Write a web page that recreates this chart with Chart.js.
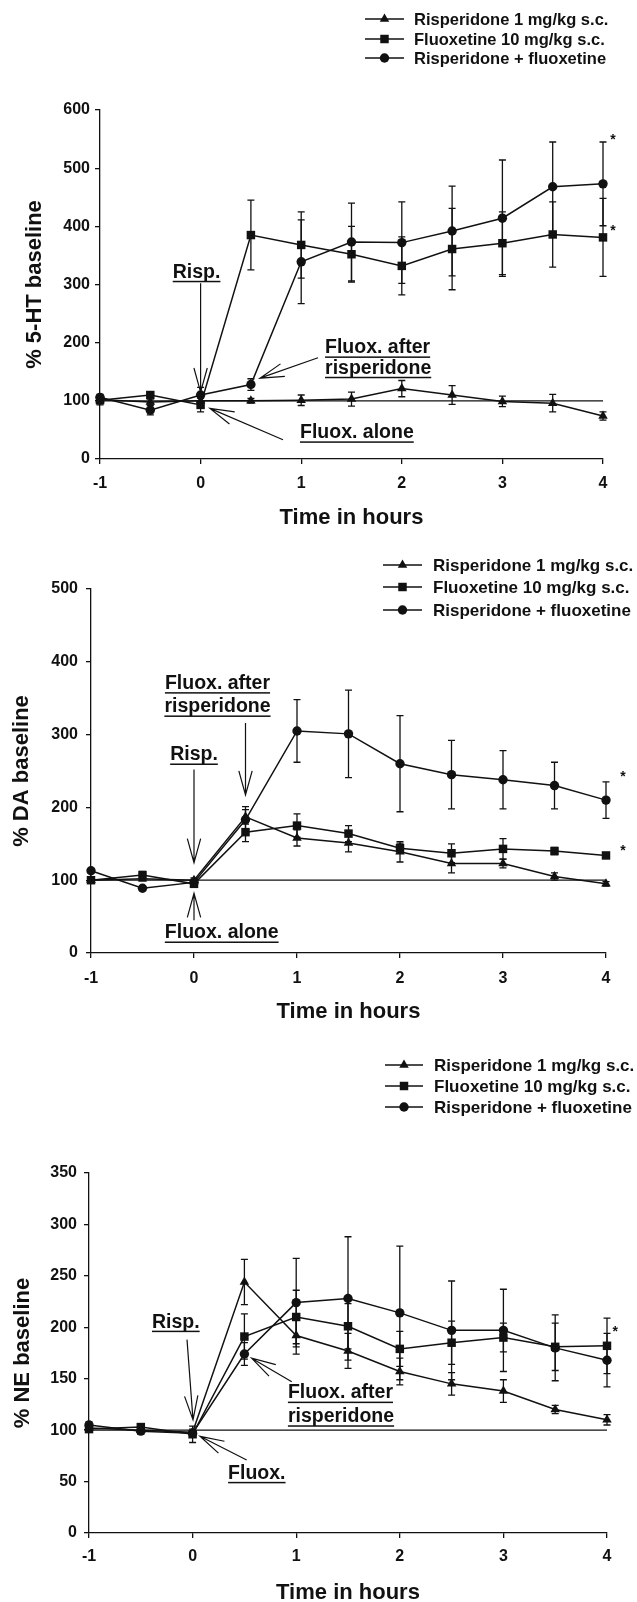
<!DOCTYPE html>
<html><head><meta charset="utf-8">
<script src="https://cdn.jsdelivr.net/npm/chart.js@4/dist/chart.umd.min.js"></script>
<style>
html,body{margin:0;padding:0;background:#fff;overflow:hidden;width:637px;height:1602px}
#wrap{position:relative;width:637px;height:1602px;overflow:hidden;background:#fff}
canvas{position:absolute;left:0}
</style></head><body><div id="wrap">
<canvas id="c1" width="637" height="540" style="top:0px;width:637px;height:540px"></canvas>
<canvas id="c2" width="637" height="490" style="top:540px;width:637px;height:490px"></canvas>
<canvas id="c3" width="637" height="580" style="top:1030px;width:637px;height:580px"></canvas>
</div>
<script>
// ---------- data ----------
const hours = [-1, -0.5, 0, 0.5, 1, 1.5, 2, 2.5, 3, 3.5, 4];
const seriesLabels = ['Risperidone 1 mg/kg s.c.', 'Fluoxetine 10 mg/kg s.c.', 'Risperidone + fluoxetine'];
const baselineLevel = 100;
const xAxisTitle = 'Time in hours';

// 5-HT
const htRisp     = [102,  98, 100, 100, 101, 103, 121, 110,  99,  96,  74];
const htRispErr  = [  5,   5,   5,   4,   9,  12,  14,  16,   9,  15,   7];
const htFluox    = [101, 110,  93, 385, 368, 352, 332, 361, 371, 386, 381];
const htFluoxErr = [  8,   5,  12,  60,  57,  48,  50,  70,  54,  56,  67];
const htCombo    = [106,  84, 110, 128, 339, 373, 372, 392, 414, 468, 473];
const htComboErr = [  5,   8,  13,  10,  72,  67,  70,  77, 100,  77,  72];

// DA
const daRisp     = [100, 102, 100, 187, 158, 151, 139, 123, 123, 105,  95];
const daRispErr  = [  3,   3,   3,  10,  11,  12,  14,  13,   6,   5,   3];
const daFluox    = [100, 107,  95, 166, 175, 164, 144, 137, 143, 140, 134];
const daFluoxErr = [  3,   5,   4,  13,  16,  11,   7,  13,  14,   5,   3];
const daCombo    = [113,  89,  97, 183, 305, 301, 260, 245, 238, 230, 210];
const daComboErr = [  3,   3,   3,  18,  43,  60,  66,  47,  40,  32,  25];

// NE
const neRisp     = [102, 100,  98, 244, 192, 177, 157, 145, 138, 120, 110];
const neRispErr  = [  3,   3,   3,  22,  18,  17,  13,  11,  11,   4,   5];
const neFluox    = [101, 103,  96, 191, 210, 201, 179, 185, 190, 181, 182];
const neFluoxErr = [  3,   3,   8,  22,  26,  22,  17,  21,  14,  23,  27];
const neCombo    = [105,  99,  97, 174, 224, 228, 214, 197, 197, 180, 168];
const neComboErr = [  3,   3,   3,  11,  43,  60,  65,  48,  40,  32,  26];

// ---------- styling ----------
const FONT = '"Liberation Sans", Arial, Helvetica, sans-serif';
const INK = '#111111';
const pointStyles = ['triangle', 'rect', 'circle'];
const pointRadii = [5.5, 6, 4.7];
const NOTE_SIZE = 19.5;

function marker(ctx, style, x, y, r) {
  ctx.beginPath();
  if (style === 'circle') ctx.arc(x, y, r, 0, Math.PI * 2);
  else if (style === 'rect') { const s = r * Math.SQRT1_2; ctx.rect(x - s, y - s, 2 * s, 2 * s); }
  else { ctx.moveTo(x, y - r); ctx.lineTo(x + r * 0.866, y + r * 0.5); ctx.lineTo(x - r * 0.866, y + r * 0.5); ctx.closePath(); }
  ctx.fill();
}
function arrow(ctx, x1, y1, x2, y2) {
  const ang = Math.atan2(y2 - y1, x2 - x1), L = 25, h = 0.27;
  ctx.beginPath();
  ctx.moveTo(x1, y1); ctx.lineTo(x2, y2);
  ctx.moveTo(x2 - L * Math.cos(ang - h), y2 - L * Math.sin(ang - h));
  ctx.lineTo(x2, y2);
  ctx.lineTo(x2 - L * Math.cos(ang + h), y2 - L * Math.sin(ang + h));
  ctx.stroke();
}

function makeExtras(p) {
  return {
    id: 'extras_' + p.id,
    beforeDatasetsDraw(chart) {
      const ctx = chart.ctx, xs = chart.scales.x, ys = chart.scales.y;
      ctx.save();
      ctx.strokeStyle = INK; ctx.lineWidth = 1.3;
      chart.data.datasets.forEach(ds => {
        if (!ds.errors) return;
        ds.data.forEach((pt, i) => {
          const e = ds.errors[i];
          const px = xs.getPixelForValue(pt.x);
          const yt = ys.getPixelForValue(pt.y + e), yb = ys.getPixelForValue(pt.y - e);
          ctx.beginPath();
          ctx.moveTo(px, yt); ctx.lineTo(px, yb);
          ctx.moveTo(px - 3.5, yt); ctx.lineTo(px + 3.5, yt);
          ctx.moveTo(px - 3.5, yb); ctx.lineTo(px + 3.5, yb);
          ctx.stroke();
        });
      });
      ctx.restore();
    },
    afterDraw(chart) {
      const ctx = chart.ctx, xs = chart.scales.x, ys = chart.scales.y;
      ctx.save();
      ctx.fillStyle = INK; ctx.strokeStyle = INK;
      // notes
      ctx.font = `bold ${NOTE_SIZE}px ${FONT}`;
      ctx.textBaseline = 'middle';
      p.notes.forEach(n => {
        const x = xs.getPixelForValue(n.x), y = ys.getPixelForValue(n.y);
        const align = n.align || 'center';
        ctx.textAlign = align;
        ctx.fillText(n.t, x, y);
        const w = ctx.measureText(n.t).width;
        const x0 = align === 'center' ? x - w / 2 : x;
        ctx.fillRect(x0, y + 8.5, w, 1.5);
      });
      // arrows
      ctx.lineWidth = 1.2;
      p.arrows.forEach(a => {
        arrow(ctx, xs.getPixelForValue(a.from[0]), ys.getPixelForValue(a.from[1]),
                   xs.getPixelForValue(a.to[0]), ys.getPixelForValue(a.to[1]));
      });
      // stars
      ctx.font = `bold 14px ${FONT}`;
      ctx.textAlign = 'center';
      p.stars.forEach(s => ctx.fillText('*', xs.getPixelForValue(s.x), ys.getPixelForValue(s.y) + 3));
      // legend
      const L = p.legend;
      ctx.font = `bold ${L.size}px ${FONT}`;
      ctx.textAlign = 'left'; ctx.textBaseline = 'middle';
      ctx.lineWidth = 1.4;
      chart.data.datasets.filter(d => d.label).forEach((d, k) => {
        const y = L.ys[k];
        ctx.beginPath(); ctx.moveTo(L.x0, y); ctx.lineTo(L.x1, y); ctx.stroke();
        marker(ctx, d.pointStyle, (L.x0 + L.x1) / 2, y, d.pointRadius);
        ctx.fillText(d.label, L.tx, y + 1);
      });
      ctx.restore();
    }
  };
}

function buildPanel(p) {
  const cv = document.getElementById(p.id);
  const W = cv.width, H = cv.height, a = p.area;
  const datasets = [{
    data: [{x: hours[0], y: baselineLevel}, {x: hours[hours.length - 1], y: baselineLevel}],
    borderColor: INK, borderWidth: 1.2, pointRadius: 0, clip: false, fill: false
  }];
  p.series.forEach((s, k) => datasets.push({
    label: seriesLabels[k],
    data: hours.map((h, i) => ({x: h, y: s.v[i]})),
    errors: s.e,
    borderColor: INK, backgroundColor: INK, borderWidth: 1.5,
    pointStyle: pointStyles[k], pointRadius: pointRadii[k],
    pointBackgroundColor: INK, pointBorderColor: INK, pointBorderWidth: 0,
    tension: 0, clip: false, fill: false
  }));
  const tickFont = {family: FONT, size: 16, weight: 'bold'};
  const titleFont = {family: FONT, size: 22, weight: 'bold'};
  new Chart(cv, {
    type: 'line',
    data: {datasets},
    options: {
      responsive: false, animation: false, devicePixelRatio: 1,
      layout: {padding: {left: 0, top: a.top, right: W - a.right, bottom: 0}},
      plugins: {legend: {display: false}, tooltip: {enabled: false}},
      scales: {
        x: {
          type: 'linear', min: -1, max: 4,
          ticks: {stepSize: 1, color: INK, font: tickFont, padding: p.xTickPad, maxRotation: 0, autoSkip: false},
          grid: {drawOnChartArea: false, drawTicks: true, tickLength: 5, color: INK, lineWidth: 1.3},
          border: {display: true, color: INK, width: 1.3},
          title: {display: true, text: xAxisTitle, color: INK, font: titleFont, padding: {top: 0, bottom: p.xTitlePad}},
          afterFit(s) { s.height = H - a.bottom; }
        },
        y: {
          type: 'linear', min: 0, max: p.yMax,
          ticks: {stepSize: p.yStep, color: INK, font: tickFont, padding: p.yTickPad},
          grid: {drawOnChartArea: false, drawTicks: true, tickLength: 5, color: INK, lineWidth: 1.3},
          border: {display: true, color: INK, width: 1.3},
          title: {display: true, text: p.yTitle, color: INK, font: titleFont, padding: {top: p.yTitlePad, bottom: 0}},
          afterFit(s) { s.width = a.left; }
        }
      }
    },
    plugins: [makeExtras(p)]
  });
}

buildPanel({
  id: 'c1', area: {left: 100, right: 603, top: 110, bottom: 459},
  yMax: 600, yStep: 100, yTitle: '% 5-HT baseline', yTitlePad: 21.8, yTickPad: 5,
  xTickPad: 10, xTitlePad: 8.8,
  series: [{v: htRisp, e: htRispErr}, {v: htFluox, e: htFluoxErr}, {v: htCombo, e: htComboErr}],
  legend: {x0: 365, x1: 404, tx: 414, ys: [19, 39, 58], size: 16.5},
  notes: [
    {t: 'Risp.', x: -0.04, y: 321},
    {t: 'Fluox. after', x: 1.237, y: 191, align: 'left'},
    {t: 'risperidone', x: 1.237, y: 156, align: 'left'},
    {t: 'Fluox. alone', x: 0.988, y: 45, align: 'left'}
  ],
  arrows: [
    {from: [0, 302], to: [0, 115]},
    {from: [1.167, 174], to: [0.59, 139]},
    {from: [0.819, 33], to: [0.093, 87]}
  ],
  stars: [{x: 4.1, y: 553}, {x: 4.1, y: 397}]
});

buildPanel({
  id: 'c2', area: {left: 91, right: 606, top: 49, bottom: 413},
  yMax: 500, yStep: 100, yTitle: '% DA baseline', yTitlePad: 8.8, yTickPad: 8,
  xTickPad: 11, xTitlePad: 4.5,
  series: [{v: daRisp, e: daRispErr}, {v: daFluox, e: daFluoxErr}, {v: daCombo, e: daComboErr}],
  legend: {x0: 383, x1: 422, tx: 433, ys: [25, 47, 70], size: 17},
  notes: [
    {t: 'Fluox. after', x: 0.228, y: 370},
    {t: 'risperidone', x: 0.228, y: 338},
    {t: 'Risp.', x: 0.0, y: 272},
    {t: 'Fluox. alone', x: 0.269, y: 27.5}
  ],
  arrows: [
    {from: [0.5, 316], to: [0.5, 217]},
    {from: [0, 252], to: [0, 124]},
    {from: [0, 45], to: [0, 82]}
  ],
  stars: [{x: 4.165, y: 246}, {x: 4.165, y: 144}]
});

buildPanel({
  id: 'c3', area: {left: 89, right: 607, top: 143, bottom: 503},
  yMax: 350, yStep: 50, yTitle: '% NE baseline', yTitlePad: 9.8, yTickPad: 7,
  xTickPad: 9, xTitlePad: 3.8,
  series: [{v: neRisp, e: neRispErr}, {v: neFluox, e: neFluoxErr}, {v: neCombo, e: neComboErr}],
  legend: {x0: 385, x1: 423, tx: 434, ys: [35, 56, 77], size: 17},
  notes: [
    {t: 'Risp.', x: -0.162, y: 205},
    {t: 'Fluox. after', x: 0.92, y: 136, align: 'left'},
    {t: 'risperidone', x: 0.92, y: 113, align: 'left'},
    {t: 'Fluox.', x: 0.62, y: 58}
  ],
  arrows: [
    {from: [-0.054, 188], to: [0.004, 110]},
    {from: [0.957, 147], to: [0.57, 170]},
    {from: [0.522, 71], to: [0.071, 94]}
  ],
  stars: [{x: 4.08, y: 198}]
});
</script>
</body></html>
